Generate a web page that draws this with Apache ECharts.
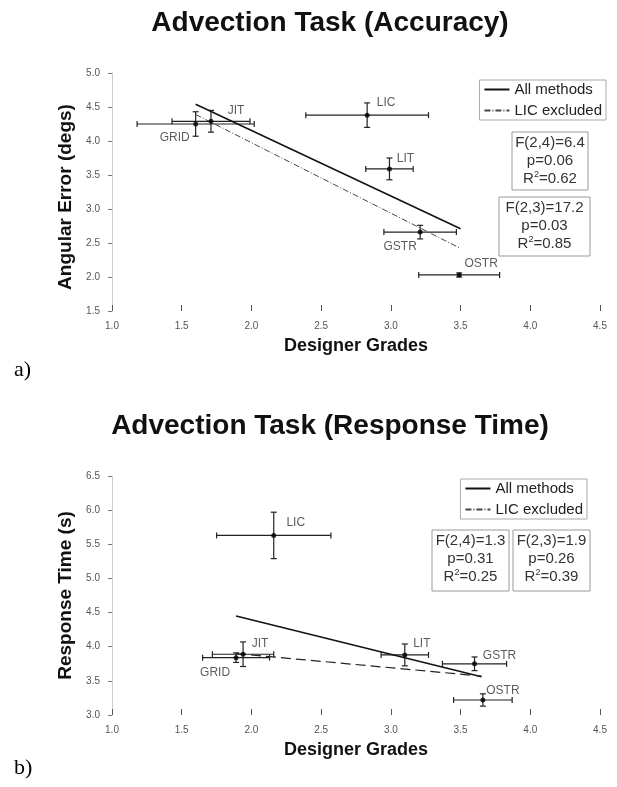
<!DOCTYPE html>
<html>
<head>
<meta charset="utf-8">
<script src="https://cdn.jsdelivr.net/npm/echarts@6/dist/echarts.min.js"></script>
<style>
  html, body { margin: 0; padding: 0; background: #fff; }
  #chart { width: 617px; height: 787px; }
</style>
</head>
<body>
<div id="chart"></div>
<script>
// methods shown in both panels
const methods = ['GRID', 'JIT', 'LIC', 'LIT', 'GSTR', 'OSTR'];

// a) accuracy: designer grade (x) and angular error (y), with error half-widths
const accGrade = [1.60, 1.71, 2.83, 2.99, 3.21, 3.49];
const accGradeErr = [0.42, 0.28, 0.44, 0.17, 0.26, 0.29];
const accError = [4.25, 4.29, 4.38, 3.59, 2.66, 2.03];
const accErrorErr = [0.18, 0.16, 0.18, 0.16, 0.10, 0.03];
const accFitAll = [[1.60, 4.54], [3.50, 2.71]];
const accFitNoLIC = [[1.60, 4.39], [3.50, 2.42]];
const accStats = [['F(2,4)=6.4', 'p=0.06', 'R{sup|2}=0.62'], ['F(2,3)=17.2', 'p=0.03', 'R{sup|2}=0.85']];

// b) response time
const timeGrade = [1.89, 1.94, 2.16, 3.10, 3.60, 3.66];
const timeGradeErr = [0.24, 0.22, 0.41, 0.17, 0.23, 0.21];
const timeValue = [3.84, 3.89, 5.63, 3.88, 3.75, 3.22];
const timeValueErr = [0.07, 0.18, 0.34, 0.16, 0.10, 0.09];
const timeFitAll = [[1.89, 4.45], [3.65, 3.56]];
const timeFitNoLIC = [[1.89, 3.90], [3.65, 3.57]];
const timeStats = [['F(2,4)=1.3', 'p=0.31', 'R{sup|2}=0.25'], ['F(2,3)=1.9', 'p=0.26', 'R{sup|2}=0.39']];

// label offsets next to each point (style only)
const accLabelOffset = [[-21, 14], [25, -11], [19, -12], [16, -10], [-20, 15], [22, -11]];
const timeLabelOffset = [[-21, 15], [17, -11], [22, -13], [17, -11], [25, -8], [20, -9]];

const FONT = 'Liberation Sans, Arial, sans-serif';
let myChart = echarts.init(document.getElementById('chart'));

// error bars: horizontal and vertical whiskers with caps
function errRender(params, api) {
    let x = api.value(0), y = api.value(1), ex = api.value(2), ey = api.value(3);
    let l = api.coord([x - ex, y]), r = api.coord([x + ex, y]);
    let t = api.coord([x, y + ey]), b = api.coord([x, y - ey]);
    let c = 3;
    let st = { stroke: '#222', lineWidth: 1.2 };
    let line = (x1, y1, x2, y2) => ({ type: 'line', shape: { x1, y1, x2, y2 }, style: st });
    return {
        type: 'group',
        children: [
            line(l[0], l[1], r[0], r[1]),
            line(l[0], l[1] - c, l[0], l[1] + c),
            line(r[0], r[1] - c, r[0], r[1] + c),
            line(t[0], t[1], b[0], b[1]),
            line(t[0] - c, t[1], t[0] + c, t[1]),
            line(b[0] - c, b[1], b[0] + c, b[1])
        ]
    };
}

function xAxisOf(gi) {
    return {
        gridIndex: gi, type: 'value', min: 1, max: 4.5, interval: 0.5,
        name: 'Designer Grades', nameLocation: 'middle', nameGap: 26,
        nameTextStyle: { fontFamily: FONT, fontSize: 18, fontWeight: 'bold', color: '#111' },
        axisLine: { show: false },
        axisTick: { show: true, length: 6, inside: true, lineStyle: { color: '#555' } },
        axisLabel: { fontFamily: FONT, fontSize: 10, color: '#555', margin: 10, formatter: v => v.toFixed(1) },
        splitLine: { show: false }
    };
}

function yAxisOf(gi, name, min, max, shift) {
    return {
        gridIndex: gi, type: 'value', min: min, max: max, interval: 0.5,
        name: name, nameLocation: 'middle', nameGap: 32,
        nameTextStyle: { fontFamily: FONT, fontSize: 19, fontWeight: 'bold', color: '#111', padding: [0, shift, 0, 0] },
        axisLine: { show: true, lineStyle: { color: '#ccc' } },
        axisTick: { show: true, length: 4, lineStyle: { color: '#777' } },
        axisLabel: { fontFamily: FONT, fontSize: 10, color: '#555', margin: 12, formatter: v => v.toFixed(1) },
        splitLine: { show: false }
    };
}

function pointData(gx, gy, offs) {
    return methods.map((m, i) => ({ name: m, value: [gx[i], gy[i]], label: { offset: offs[i] } }));
}

function errData(gx, gy, ex, ey) {
    return methods.map((m, i) => [gx[i], gy[i], ex[i], ey[i]]);
}

function statBoxes(stats, boxes) {
    let out = [];
    boxes.forEach((b, k) => {
        out.push({
            type: 'rect', shape: { x: b[0], y: b[1], width: b[2], height: b[3] },
            style: { fill: 'none', stroke: '#999', lineWidth: 1 }
        });
        out.push({
            type: 'text', x: b[0] + b[2] / 2, y: b[1] + 2,
            style: {
                text: stats[k].join('\n'), align: 'center', verticalAlign: 'top',
                font: '15px ' + FONT, fill: '#333', lineHeight: 18,
                rich: { sup: { fontSize: 9, fontFamily: FONT, fill: '#333', verticalAlign: 'top', lineHeight: 18, padding: [0, 0, 8, 0] } }
            }
        });
    });
    return out;
}

function legendOf(right, top) {
    return {
        data: ['All methods', 'LIC excluded'], orient: 'vertical', right: right, top: top,
        itemWidth: 25, itemHeight: 12, itemGap: 6, padding: [2, 4, 2, 4],
        borderColor: '#aaa', borderWidth: 1, selectedMode: false,
        itemStyle: { opacity: 0 },
        textStyle: { fontFamily: FONT, fontSize: 15, color: '#222' }
    };
}

const labelStyle = { show: true, position: 'inside', formatter: '{b}', fontFamily: FONT, fontSize: 12, color: '#333' };
const titleFont = 'bold 28px ' + FONT;

myChart.setOption({
    backgroundColor: '#fff',
    animation: false,
    legend: [legendOf(11, 80), legendOf(30, 479)],
    grid: [
        { left: 112, top: 73, width: 488, height: 238 },
        { left: 112, top: 476, width: 488, height: 239 }
    ],
    xAxis: [xAxisOf(0), xAxisOf(1)],
    yAxis: [yAxisOf(0, 'Angular Error (degs)', 1.5, 5.0, 10), yAxisOf(1, 'Response Time (s)', 3.0, 6.5, 0)],
    series: [
        { name: 'All methods', type: 'line', xAxisIndex: 0, yAxisIndex: 0, data: accFitAll,
          symbol: 'none', itemStyle: { color: '#111' }, lineStyle: { color: '#111', width: 1.5 } },
        { name: 'LIC excluded', type: 'line', xAxisIndex: 0, yAxisIndex: 0, data: accFitNoLIC,
          symbol: 'none', itemStyle: { color: '#444' }, lineStyle: { color: '#444', width: 1, type: [6, 2, 1, 2] } },
        { type: 'custom', xAxisIndex: 0, yAxisIndex: 0, renderItem: errRender,
          encode: { x: 0, y: 1 }, data: errData(accGrade, accError, accGradeErr, accErrorErr), z: 3 },
        { type: 'scatter', xAxisIndex: 0, yAxisIndex: 0, symbolSize: 5, itemStyle: { color: '#000' },
          label: labelStyle, data: pointData(accGrade, accError, accLabelOffset), z: 4 },

        { name: 'All methods', type: 'line', xAxisIndex: 1, yAxisIndex: 1, data: timeFitAll,
          symbol: 'none', itemStyle: { color: '#111' }, lineStyle: { color: '#111', width: 1.5 } },
        { name: 'LIC excluded', type: 'line', xAxisIndex: 1, yAxisIndex: 1, data: timeFitNoLIC,
          symbol: 'none', itemStyle: { color: '#222' }, lineStyle: { color: '#222', width: 1.2, type: [10, 5] } },
        { type: 'custom', xAxisIndex: 1, yAxisIndex: 1, renderItem: errRender,
          encode: { x: 0, y: 1 }, data: errData(timeGrade, timeValue, timeGradeErr, timeValueErr), z: 3 },
        { type: 'scatter', xAxisIndex: 1, yAxisIndex: 1, symbolSize: 5, itemStyle: { color: '#000' },
          label: labelStyle, data: pointData(timeGrade, timeValue, timeLabelOffset), z: 4 }
    ],
    graphic: [].concat(
        [
            { type: 'text', x: 330, y: 23, style: { text: 'Advection Task (Accuracy)', align: 'center', verticalAlign: 'middle', font: titleFont, fill: '#111' } },
            { type: 'text', x: 330, y: 426, style: { text: 'Advection Task (Response Time)', align: 'center', verticalAlign: 'middle', font: titleFont, fill: '#111' } }
        ],
        statBoxes(accStats, [[512, 132, 76, 58], [499, 197, 91, 59]]),
        statBoxes(timeStats, [[432, 530, 77, 61], [513, 530, 77, 61]]),
        [
            { type: 'text', x: 14, y: 359, style: { text: 'a)', font: '22px Liberation Serif, serif', fill: '#000' } },
            { type: 'text', x: 14, y: 757, style: { text: 'b)', font: '22px Liberation Serif, serif', fill: '#000' } }
        ]
    )
});

window.addEventListener('resize', function () {
    myChart.resize();
});
</script>
</body>
</html>
